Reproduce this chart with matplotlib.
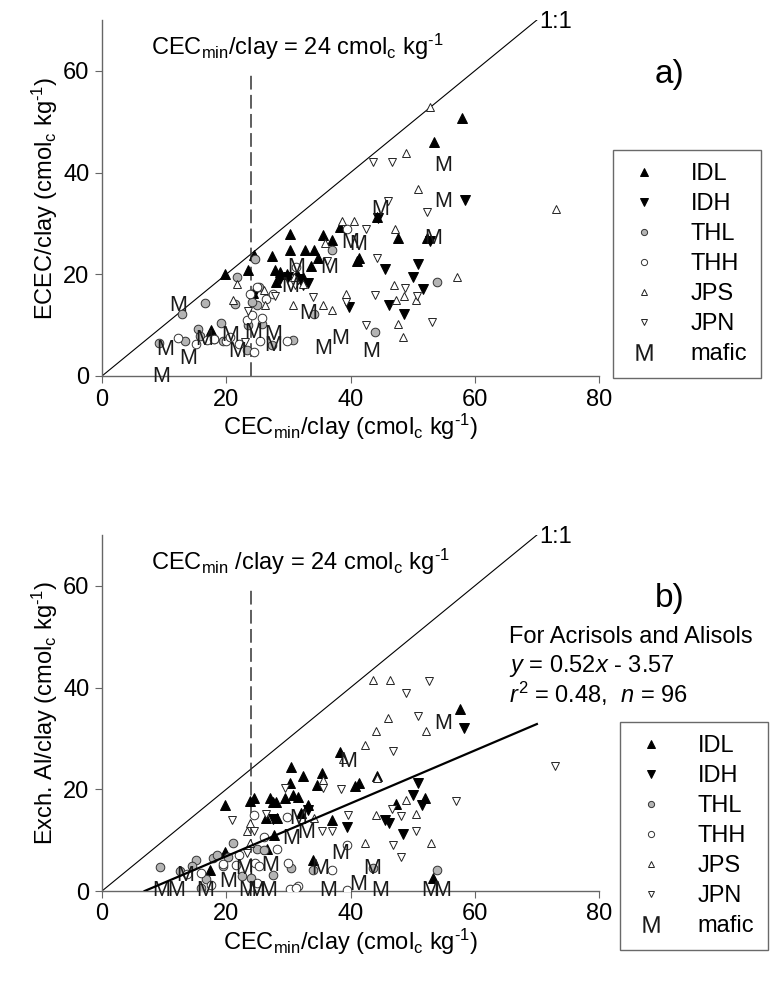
#ECEC y Al intercambiable frente a CEC mineral por arcilla, dos paneles
import numpy as np
import matplotlib
matplotlib.use('Agg')
import matplotlib.pyplot as plt
from matplotlib.lines import Line2D

plt.rcParams['font.family'] = ['Liberation Sans', 'DejaVu Sans']
plt.rcParams['mathtext.fontset'] = 'custom'
plt.rcParams['mathtext.rm'] = 'Liberation Sans'
plt.rcParams['mathtext.it'] = 'Liberation Sans:italic'

# ---- panel a) ECEC/clay ----
idl_a_x = [19.8, 23.5, 24.5, 27.3, 27.8, 28.6, 29.7, 30.3, 30.3, 31.4, 32.4, 32.6, 33.6, 34.1,
           34.7, 35.5, 37.1, 38.3, 41.0, 41.4, 44.3, 47.7, 52.3, 53.4, 57.9, 17.6, 24.3, 28.0]
idl_a_y = [20.1, 20.8, 23.8, 23.6, 20.8, 20.5, 20.1, 28.0, 24.8, 20.1, 19.4, 24.8, 21.7, 24.8,
           23.3, 27.7, 26.7, 29.2, 22.7, 23.2, 31.3, 27.2, 27.2, 46.1, 50.7, 9.0, 16.3, 18.5]
idh_a_x = [58.4, 45.6, 50.8, 50.1, 51.6, 46.2, 48.6, 39.8, 44.4, 32.4, 33.2, 28.6, 30.0, 31.5, 24.3, 52.8]
idh_a_y = [34.7, 21.0, 22.1, 19.5, 17.1, 14.0, 12.1, 13.5, 31.1, 17.8, 18.3, 19.1, 19.5, 19.0, 15.8, 26.5]
thl_a_x = [21.7, 16.6, 12.8, 9.2, 13.4, 15.5, 15.8, 19.2, 19.4, 21.4, 24.6, 24.9, 24.1, 25.7,
           23.3, 27.3, 30.7, 37.0, 34.1, 43.9, 54.0, 25.2, 23.5, 18.0]
thl_a_y = [19.4, 14.3, 12.2, 6.5, 6.9, 9.3, 7.9, 10.4, 6.8, 14.2, 23.0, 13.9, 14.5, 10.3,
           5.2, 6.1, 7.0, 24.8, 12.2, 8.7, 18.4, 17.5, 10.0, 7.2]
thh_a_x = [12.3, 15.2, 16.9, 20.0, 22.0, 24.5, 25.4, 23.4, 24.1, 25.7, 23.8, 25.0, 26.4, 27.6,
           29.7, 39.4, 31.3, 18.0, 20.6]
thh_a_y = [7.4, 6.2, 7.0, 6.8, 6.3, 4.8, 6.8, 11.0, 11.9, 11.5, 16.2, 17.5, 15.2, 16.2,
           6.8, 28.9, 21.4, 7.2, 7.6]
jps_a_x = [52.8, 48.9, 50.9, 73.1, 38.6, 40.5, 47.2, 35.9, 57.1, 47.0, 48.6, 47.4, 50.6, 47.6,
           48.5, 37.0, 39.3, 21.7, 21.1, 26.0, 26.2, 30.8, 35.6, 30.9, 32.3]
jps_a_y = [52.8, 43.8, 36.7, 32.9, 30.4, 30.4, 28.9, 26.2, 19.4, 17.8, 15.8, 14.9, 14.9, 10.3,
           7.7, 12.9, 16.2, 18.0, 14.9, 16.9, 14.0, 13.9, 14.0, 19.4, 18.1]
jpn_a_x = [43.7, 46.6, 46.1, 52.3, 42.5, 44.3, 43.9, 48.8, 50.7, 53.1, 42.5, 39.2, 34.0, 36.2,
           27.8, 23.5, 23.0, 31.1]
jpn_a_y = [42.0, 42.0, 34.4, 32.2, 28.9, 23.3, 16.0, 17.3, 15.8, 10.6, 10.0, 14.5, 15.5, 22.7,
           15.8, 12.8, 6.7, 17.8]
maf_a_x = [54.9, 54.9, 44.7, 53.3, 39.9, 41.3, 31.3, 36.6, 30.3, 33.2, 12.3, 10.1, 13.9, 9.6,
           16.5, 20.6, 24.3, 27.5, 27.5, 21.7, 35.6, 38.3, 43.4]
maf_a_y = [41.4, 34.4, 32.8, 27.1, 26.2, 25.9, 21.4, 21.4, 17.5, 12.2, 13.9, 5.2, 3.4, 0.0,
           7.1, 8.0, 8.6, 8.2, 6.0, 4.8, 5.4, 7.4, 4.8]

# ---- panel b) Exch. Al/clay ----
idl_b_x = [57.6, 38.3, 30.4, 32.4, 35.4, 30.3, 34.6, 41.4, 40.8, 44.3, 24.4, 23.9, 19.8, 27.0,
           27.5, 28.0, 29.4, 30.7, 31.6, 33.2, 32.0, 28.1, 26.4, 37.0, 47.4, 52.0, 27.7, 19.8,
           17.4, 34.0, 53.3, 26.5]
idl_b_y = [35.7, 27.4, 24.3, 22.7, 23.3, 21.2, 20.8, 21.2, 20.6, 22.7, 18.2, 17.6, 16.9, 18.2,
           17.5, 17.5, 18.2, 18.8, 18.5, 16.9, 15.3, 14.3, 14.3, 13.9, 17.2, 18.2, 11.1, 7.7,
           4.1, 6.1, 2.5, 8.2]
idh_b_x = [58.3, 50.8, 50.0, 51.5, 45.6, 46.2, 48.4, 39.4, 27.5, 33.1]
idh_b_y = [32.0, 21.3, 18.9, 16.9, 13.9, 13.3, 11.3, 12.6, 14.1, 15.9]
thl_b_x = [9.3, 15.2, 16.8, 17.9, 21.1, 20.3, 19.4, 24.9, 26.0, 27.6, 30.4, 33.9, 53.9, 43.6,
           12.5, 14.5, 22.5, 16.0, 24.0, 18.5]
thl_b_y = [4.7, 6.0, 2.3, 6.5, 9.5, 6.6, 4.9, 8.2, 8.1, 3.1, 4.5, 4.1, 4.1, 4.5,
           4.0, 4.9, 3.0, 0.5, 2.5, 7.0]
thh_b_x = [24.4, 26.0, 28.2, 30.0, 19.4, 15.9, 13.7, 21.5, 24.7, 25.3, 29.8, 39.4, 37.0, 30.3,
           31.6, 39.4, 24.9, 17.5, 22.0, 31.3]
thh_b_y = [14.9, 10.7, 8.2, 5.6, 5.3, 3.5, 3.4, 5.2, 5.6, 4.9, 14.6, 9.0, 4.1, 0.4,
           0.9, 0.2, 1.5, 1.2, 7.0, 0.5]
jps_b_x = [43.7, 46.4, 46.0, 44.1, 52.2, 42.3, 35.5, 44.3, 44.1, 48.9, 50.6, 42.3, 52.9, 34.1,
           23.9, 23.4, 23.9, 38.8]
jps_b_y = [41.5, 41.4, 34.0, 31.5, 31.5, 28.7, 21.8, 22.3, 14.9, 17.9, 15.1, 9.5, 9.5, 14.3,
           13.3, 11.7, 9.4, 26.0]
jpn_b_x = [52.7, 48.9, 50.8, 46.9, 72.9, 57.0, 38.4, 35.5, 46.6, 48.2, 50.6, 46.9, 48.2, 37.0,
           39.6, 35.4, 21.0, 26.4, 23.4, 24.4, 29.5]
jpn_b_y = [41.3, 39.0, 34.4, 27.5, 24.6, 17.7, 20.0, 20.3, 16.2, 14.7, 11.8, 9.0, 6.7, 11.8,
           14.9, 11.7, 13.9, 15.1, 7.4, 11.7, 20.2]
maf_b_x = [54.9, 39.6, 30.5, 32.9, 31.5, 38.3, 35.1, 43.5, 41.3, 27.0, 22.9, 20.3, 13.4, 9.6,
           12.0, 16.6, 23.4, 24.8, 26.7, 36.4, 44.7, 52.8, 54.7]
maf_b_y = [32.9, 25.4, 10.3, 11.6, 14.3, 7.4, 4.5, 4.5, 1.2, 5.1, 4.5, 1.8, 3.1, 0.0,
           0.0, 0.0, 0.0, 0.0, 0.0, 0.0, 0.0, 0.0, 0.0]

# regresion (Acrisols y Alisols)
slope = 0.52
intercept = -3.57
reg_x = [-intercept / slope, 70]

cec_lim = 24
groups = ['IDL', 'IDH', 'THL', 'THH', 'JPS', 'JPN']
styles = {
    'IDL': dict(marker='^', ms=7.2, mfc='black', mec='black'),
    'IDH': dict(marker='v', ms=7.2, mfc='black', mec='black'),
    'THL': dict(marker='o', ms=6.2, mfc='#b4b4b4', mec='#333333'),
    'THH': dict(marker='o', ms=6.2, mfc='white', mec='#333333'),
    'JPS': dict(marker='^', ms=6.3, mfc='white', mec='#222222'),
    'JPN': dict(marker='v', ms=6.3, mfc='white', mec='#222222'),
}
FS = 17

fig = plt.figure(figsize=(7.71, 9.82), dpi=100)
ax_a = fig.add_axes([102/771, 1-376/982, 497/771, 356/982])
ax_b = fig.add_axes([102/771, 1-891/982, 497/771, 356/982])

unit = r'(cmol$_{\rm c}$ kg$^{\text{-1}}$)'
xlab = r'CEC$_{\rm min}$/clay ' + unit


def panel(ax, data, mafx, mafy, ylab, cec_txt):
    ax.plot([0, 70], [0, 70], color='black', lw=0.8, zorder=1)
    ax.plot([cec_lim, cec_lim], [0, 60], color='#333333', lw=1.1,
            dashes=(9, 3.5), zorder=1)
    for g in groups:
        gx, gy = data[g]
        ax.plot(gx, gy, ls='none', mew=0.7, zorder=3, **styles[g])
    for xm, ym in zip(mafx, mafy):
        ax.text(xm, ym, 'M', ha='center', va='center', fontsize=15.5,
                color='#1a1a1a', zorder=4)
    ax.set_xlim(0, 80)
    ax.set_ylim(0, 70)
    ax.set_xticks([0, 20, 40, 60, 80])
    ax.set_yticks([0, 20, 40, 60])
    for s in ['top', 'right']:
        ax.spines[s].set_visible(False)
    for s in ['left', 'bottom']:
        ax.spines[s].set_color('#666666')
        ax.spines[s].set_linewidth(1.0)
    ax.tick_params(labelsize=FS, length=5, color='#666666', pad=4)
    ax.set_xlabel(xlab, fontsize=FS, labelpad=1)
    ax.set_ylabel(ylab, fontsize=FS, labelpad=2)
    ax.text(7.9, 64.7, cec_txt, fontsize=FS, va='center', ha='left')
    ax.text(70.4, 69.6, '1:1', fontsize=FS, va='center', ha='left')

    handles = [Line2D([], [], ls='none', mew=0.7,
                      **dict(styles[g], ms=styles[g]['ms'] * 0.72)) for g in groups]
    handles.append(Line2D([], [], ls='none', marker=r'$\mathrm{M}$', ms=12,
                          mew=0, color='#1a1a1a'))
    return handles


h = panel(ax_a, {'IDL': (idl_a_x, idl_a_y), 'IDH': (idh_a_x, idh_a_y),
                 'THL': (thl_a_x, thl_a_y), 'THH': (thh_a_x, thh_a_y),
                 'JPS': (jps_a_x, jps_a_y), 'JPN': (jpn_a_x, jpn_a_y)},
          maf_a_x, maf_a_y, r'ECEC/clay ' + unit,
          r'CEC$_{\rm min}$/clay = 24 cmol$_{\rm c}$ kg$^{\text{-1}}$')
panel(ax_b, {'IDL': (idl_b_x, idl_b_y), 'IDH': (idh_b_x, idh_b_y),
             'THL': (thl_b_x, thl_b_y), 'THH': (thh_b_x, thh_b_y),
             'JPS': (jps_b_x, jps_b_y), 'JPN': (jpn_b_x, jpn_b_y)},
      maf_b_x, maf_b_y, r'Exch. Al/clay ' + unit,
      r'CEC$_{\rm min}$ /clay = 24 cmol$_{\rm c}$ kg$^{\text{-1}}$')

reg_y = [slope * v + intercept for v in reg_x]
ax_b.plot(reg_x, reg_y, color='black', lw=1.6, zorder=5)

labels = groups + ['mafic']
for ax, left, top in [(ax_a, 613, 150), (ax_b, 620, 722)]:
    leg = ax.legend(h, labels, loc='upper left',
                    bbox_to_anchor=(left/771, 1 - top/982),
                    bbox_transform=fig.transFigure, fontsize=FS, frameon=True,
                    fancybox=False, edgecolor='#444444', handlelength=1.5,
                    handletextpad=1.25, labelspacing=0.34, borderpad=0.55,
                    borderaxespad=0)
    leg.get_frame().set_linewidth(1.0)
    leg.set_clip_on(False)

fig.text(655/771, 1 - 75/982, 'a)', fontsize=24, va='center', ha='left')
fig.text(655/771, 1 - 598/982, 'b)', fontsize=24, va='center', ha='left')

fig.text(509/771, 1 - 637/982, 'For Acrisols and Alisols', fontsize=FS, va='center')
fig.text(509/771, 1 - 666/982, r'$y$ = 0.52$x$ - 3.57', fontsize=FS, va='center')
fig.text(509/771, 1 - 694/982, r'$r^{\rm 2}$ = 0.48,  $n$ = 96', fontsize=FS, va='center')

fig.savefig('out.png', dpi=100)
